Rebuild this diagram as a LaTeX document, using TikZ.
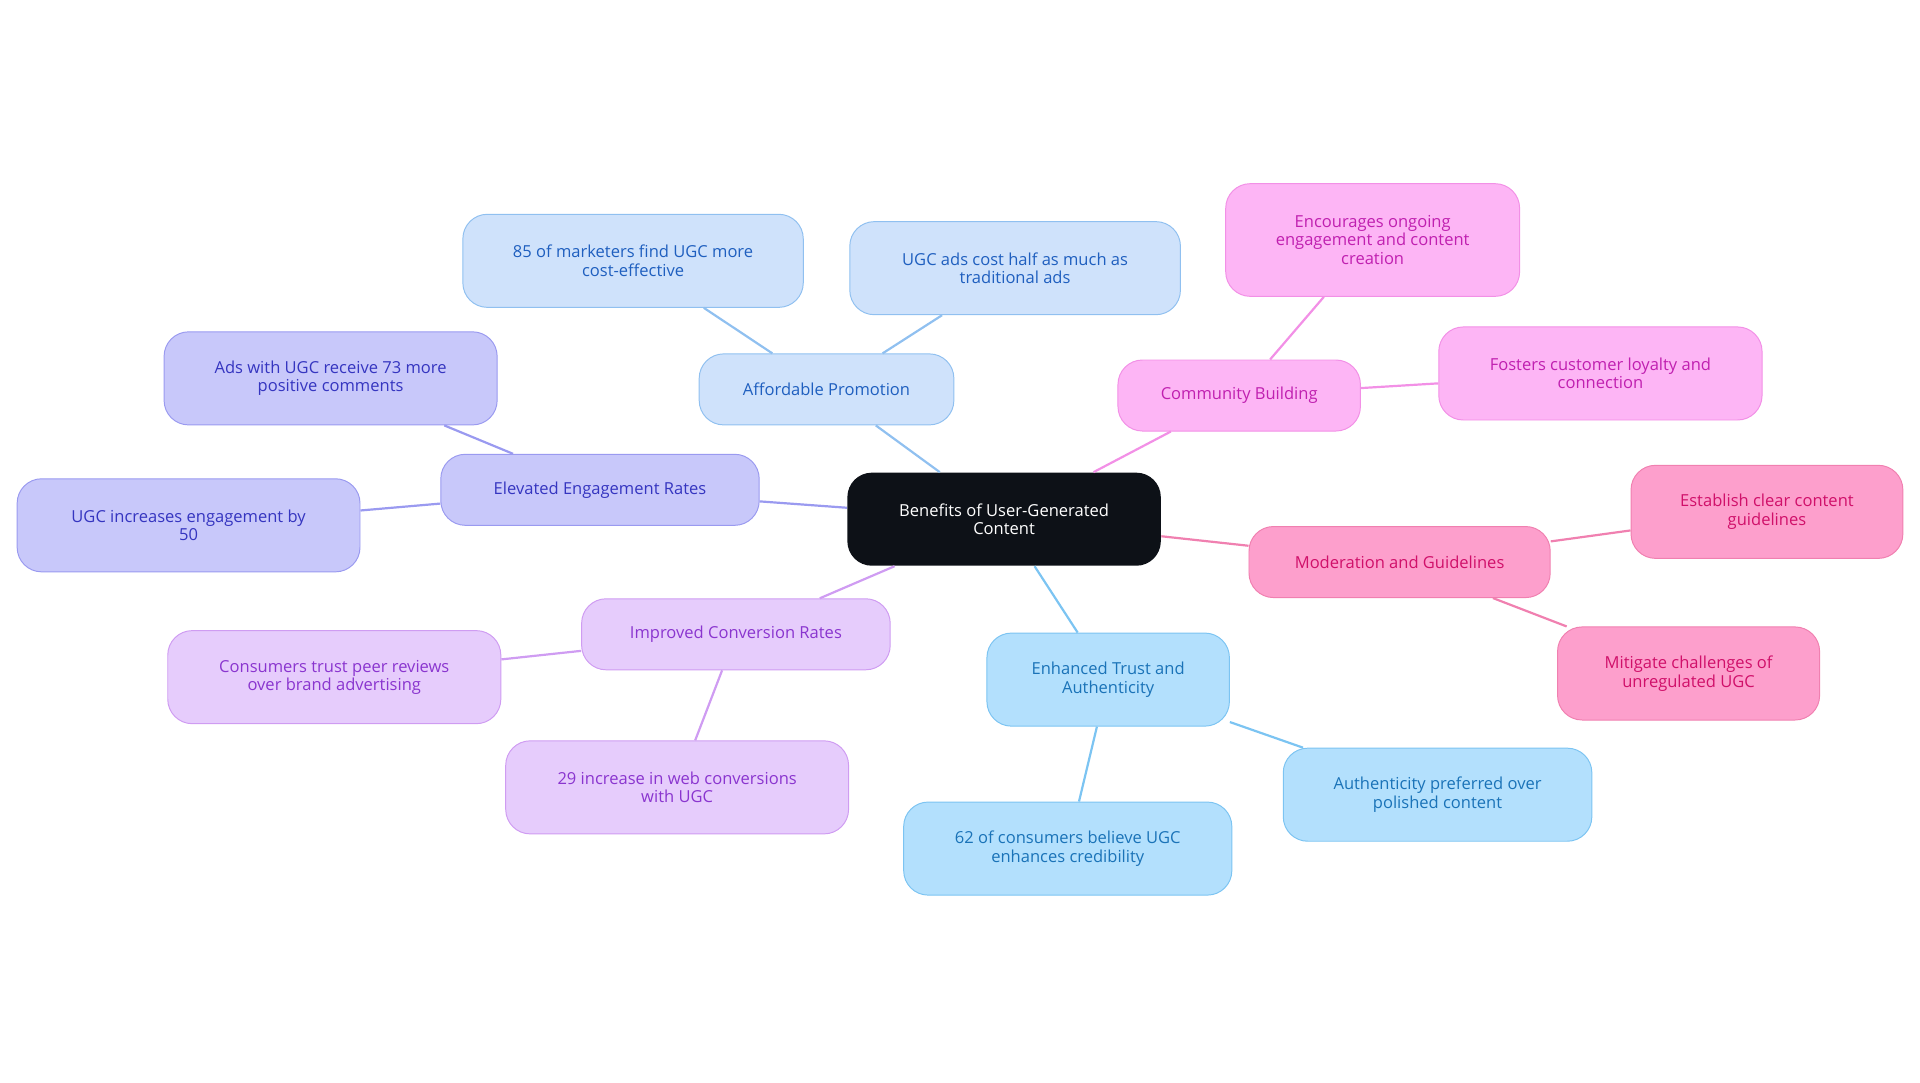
\documentclass[tikz,border=0pt]{standalone}
\usepackage{fontspec}
\setmainfont{Open Sans}
\begin{document}
\begin{tikzpicture}[x=1pt,y=-1pt,
 base/.style={rounded corners=20pt,align=center,font=\fontsize{13.5}{15}\selectfont,line width=0.8pt,inner sep=0pt},
 bl/.style={base,fill=blue!0!white,fill={rgb,255:red,207;green,226;blue,251},draw={rgb,255:red,144;green,192;blue,240},text={rgb,255:red,31;green,95;blue,191}},
 vi/.style={base,fill={rgb,255:red,200;green,200;blue,250},draw={rgb,255:red,154;green,154;blue,240},text={rgb,255:red,53;green,53;blue,192}},
 pu/.style={base,fill={rgb,255:red,230;green,204;blue,252},draw={rgb,255:red,207;green,156;blue,242},text={rgb,255:red,138;green,53;blue,207}},
 sk/.style={base,fill={rgb,255:red,179;green,224;blue,253},draw={rgb,255:red,124;green,196;blue,242},text={rgb,255:red,26;green,115;blue,184}},
 pk/.style={base,fill={rgb,255:red,253;green,181;blue,245},draw={rgb,255:red,242;green,144;blue,230},text={rgb,255:red,192;green,32;blue,176}},
 ro/.style={base,fill={rgb,255:red,253;green,159;blue,204},draw={rgb,255:red,240;green,128;blue,176},text={rgb,255:red,208;green,16;blue,106}},
 eb/.style={line width=1.8pt,draw={rgb,255:red,144;green,192;blue,240}},
 ev/.style={line width=1.8pt,draw={rgb,255:red,154;green,154;blue,240}},
 ep/.style={line width=1.8pt,draw={rgb,255:red,207;green,156;blue,242}},
 es/.style={line width=1.8pt,draw={rgb,255:red,124;green,196;blue,242}},
 ek/.style={line width=1.8pt,draw={rgb,255:red,242;green,144;blue,230}},
 er/.style={line width=1.8pt,draw={rgb,255:red,240;green,128;blue,176}}]
\useasboundingbox (0,0) rectangle (1568,884);
\node[base,fill={rgb,255:red,13;green,17;blue,23},text=white,minimum width=256pt,minimum height=76pt] (c) at (820,424) {Benefits of User-Generated\\Content};
\node[bl,minimum width=208pt,minimum height=58pt] (a) at (675,318) {Affordable Promotion};
\node[bl,minimum width=278pt,minimum height=76pt] (a1) at (517,213) {85 of marketers find UGC more\\cost-effective};
\node[bl,minimum width=270pt,minimum height=76pt] (a2) at (829,219) {UGC ads cost half as much as\\traditional ads};
\node[vi,minimum width=260pt,minimum height=58pt] (e) at (490,400) {Elevated Engagement Rates};
\node[vi,minimum width=272pt,minimum height=76pt] (e1) at (270,309) {Ads with UGC receive 73 more\\positive comments};
\node[vi,minimum width=280pt,minimum height=76pt] (e2) at (154,429) {UGC increases engagement by\\50};
\node[pu,minimum width=252pt,minimum height=58pt] (i) at (601,518) {Improved Conversion Rates};
\node[pu,minimum width=272pt,minimum height=76pt] (i1) at (273,553) {Consumers trust peer reviews\\over brand advertising};
\node[pu,minimum width=280pt,minimum height=76pt] (i2) at (553,643) {29 increase in web conversions\\with UGC};
\node[sk,minimum width=198pt,minimum height=76pt] (t) at (905,555) {Enhanced Trust and\\Authenticity};
\node[sk,minimum width=268pt,minimum height=76pt] (t1) at (872,693) {62 of consumers believe UGC\\enhances credibility};
\node[sk,minimum width=252pt,minimum height=76pt] (t2) at (1174,649) {Authenticity preferred over\\polished content};
\node[pk,minimum width=198pt,minimum height=58pt] (b) at (1012,323) {Community Building};
\node[pk,minimum width=240pt,minimum height=92pt] (b1) at (1121,196) {Encourages ongoing\\engagement and content\\creation};
\node[pk,minimum width=264pt,minimum height=76pt] (b2) at (1307,305) {Fosters customer loyalty and\\connection};
\node[ro,minimum width=246pt,minimum height=58pt] (m) at (1143,459) {Moderation and Guidelines};
\node[ro,minimum width=222pt,minimum height=76pt] (m1) at (1443,418) {Establish clear content\\guidelines};
\node[ro,minimum width=214pt,minimum height=76pt] (m2) at (1379,550) {Mitigate challenges of\\unregulated UGC};
\begin{scope}[on background layer/.style={}]
\draw[eb] (c) -- (a); \draw[eb] (a) -- (a1); \draw[eb] (a) -- (a2);
\draw[ev] (c) -- (e); \draw[ev] (e) -- (e1); \draw[ev] (e) -- (e2);
\draw[ep] (c) -- (i); \draw[ep] (i) -- (i1); \draw[ep] (i) -- (i2);
\draw[es] (c) -- (t); \draw[es] (t) -- (t1); \draw[es] (t) -- (t2);
\draw[ek] (c) -- (b); \draw[ek] (b) -- (b1); \draw[ek] (b) -- (b2);
\draw[er] (c) -- (m); \draw[er] (m) -- (m1); \draw[er] (m) -- (m2);
\end{scope}
\end{tikzpicture}
\end{document}
